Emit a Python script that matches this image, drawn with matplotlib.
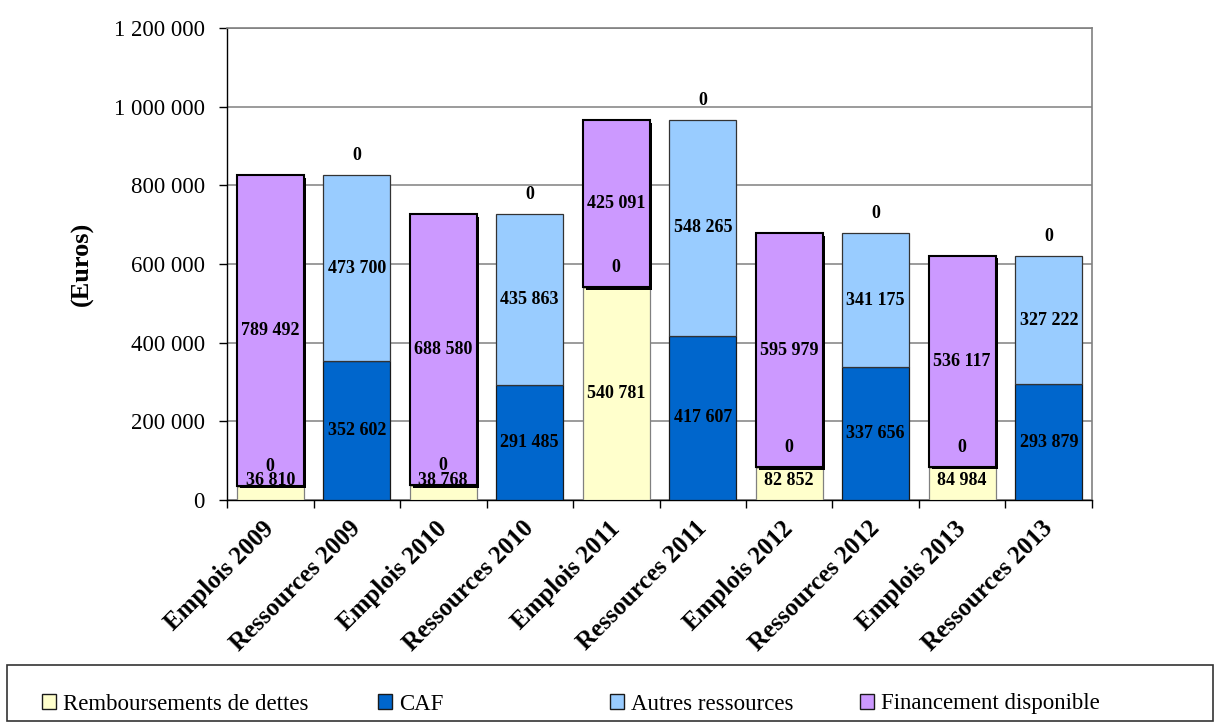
import numpy as np
import matplotlib.pyplot as plt
import matplotlib.patheffects as pe
from matplotlib.patches import Rectangle

# Data
categories = ['Emplois 2009', 'Ressources 2009', 'Emplois 2010', 'Ressources 2010',
              'Emplois 2011', 'Ressources 2011', 'Emplois 2012', 'Ressources 2012',
              'Emplois 2013', 'Ressources 2013']
nan = np.nan
remboursements = [36810, nan, 38768, nan, 540781, nan, 82852, nan, 84984, nan]
caf = [nan, 352602, nan, 291485, nan, 417607, nan, 337656, nan, 293879]
autres = [0, 473700, 0, 435863, 0, 548265, 0, 341175, 0, 327222]
financement = [789492, 0, 688580, 0, 425091, 0, 595979, 0, 536117, 0]

series_names = ['Remboursements de dettes', 'CAF', 'Autres ressources', 'Financement disponible']
series_values = [remboursements, caf, autres, financement]
colors = ['#FFFFCC', '#0066CC', '#99CCFF', '#CC99FF']
edges = ['#808080', '#1a1a1a', '#333333', 'black']

plt.rcParams['font.family'] = ['Liberation Serif', 'DejaVu Serif']


def fmt(v):
    return f'{int(round(v)):,}'.replace(',', ' ')


fig = plt.figure(figsize=(12.23, 7.22), dpi=100)
ax = fig.add_axes([227 / 1223, 1 - 500 / 722, 865 / 1223, 472 / 722])

x = np.arange(len(categories))
bottom = np.zeros(len(categories))
handles = []
for name, vals, col, ec in zip(series_names, series_values, colors, edges):
    v = np.array(vals, dtype=float)
    h = np.nan_to_num(v)
    lw = 1.5 if name == 'Financement disponible' else 0.9
    bars = ax.bar(x, h, 0.77, bottom=bottom, color=col, edgecolor=ec, linewidth=lw,
                  zorder=3)
    if name == 'Financement disponible':
        for b, val in zip(bars, v):
            if val > 0:
                b.set_path_effects([pe.SimplePatchShadow(offset=(2.0, -2.0),
                                                         shadow_rgbFace='black', alpha=1),
                                    pe.Normal()])
            else:
                b.set_visible(False)
    handles.append(bars)
    for i, val in enumerate(v):
        if np.isnan(val):
            continue
        if val == 0:
            ax.annotate('0', (x[i], bottom[i]), xytext=(0, 14), textcoords='offset points',
                        ha='center', va='center', fontsize=13, fontweight='bold', zorder=5)
        else:
            ymid = max(bottom[i] + val / 2, 50000)
            ax.text(x[i], ymid, fmt(val), ha='center', va='center', fontsize=13,
                    fontweight='bold', zorder=5)
    bottom = bottom + h

ax.set_xlim(-0.5, len(categories) - 0.5)
ax.set_ylim(0, 1200000)
ax.set_yticks(np.arange(0, 1200001, 200000))
ax.set_yticklabels([fmt(t) for t in np.arange(0, 1200001, 200000)], fontsize=16.5)
ax.yaxis.grid(True, color='#808080', linewidth=1.1, zorder=0)
ax.set_axisbelow(True)

ax.set_xticks(x)
ax.set_xticklabels(categories, rotation=45, ha='right', va='center',
                   rotation_mode='anchor', fontsize=18, fontweight='bold')
ax.tick_params(axis='x', which='major', length=0, pad=18)
ax.set_xticks(np.arange(-0.5, len(categories)), minor=True)
ax.tick_params(axis='x', which='minor', length=6, width=1, direction='out')
ax.tick_params(axis='y', length=6, width=1, direction='out', pad=10)

ax.set_ylabel('(Euros)', fontsize=19, fontweight='bold', labelpad=14)

for s in ['top', 'right']:
    ax.spines[s].set_color('#808080')
    ax.spines[s].set_linewidth(1.2)
for s in ['left', 'bottom']:
    ax.spines[s].set_color('black')
    ax.spines[s].set_linewidth(1.0)

# Legend box at bottom
fig.patches.append(Rectangle((7 / 1223, 1 / 722), 1206 / 1223, (722 - 664 - 2) / 722,
                             transform=fig.transFigure, fill=False, edgecolor='#333333',
                             linewidth=1.2))

leg_x = [42, 378, 610, 860]
for hd, name, lx in zip(handles, series_names, leg_x):
    lg = fig.legend([hd], [name], loc='center left', bbox_to_anchor=(lx / 1223, 1 - 704 / 722),
                    frameon=False, fontsize=16.5, handlelength=0.62, handleheight=0.62,
                    handletextpad=0.3, borderpad=0, borderaxespad=0)
    for p in lg.get_patches():
        p.set_edgecolor('#1a1a1a')
        p.set_linewidth(1.0)
        p.set_path_effects([])

fig.savefig('out.png', dpi=100)
